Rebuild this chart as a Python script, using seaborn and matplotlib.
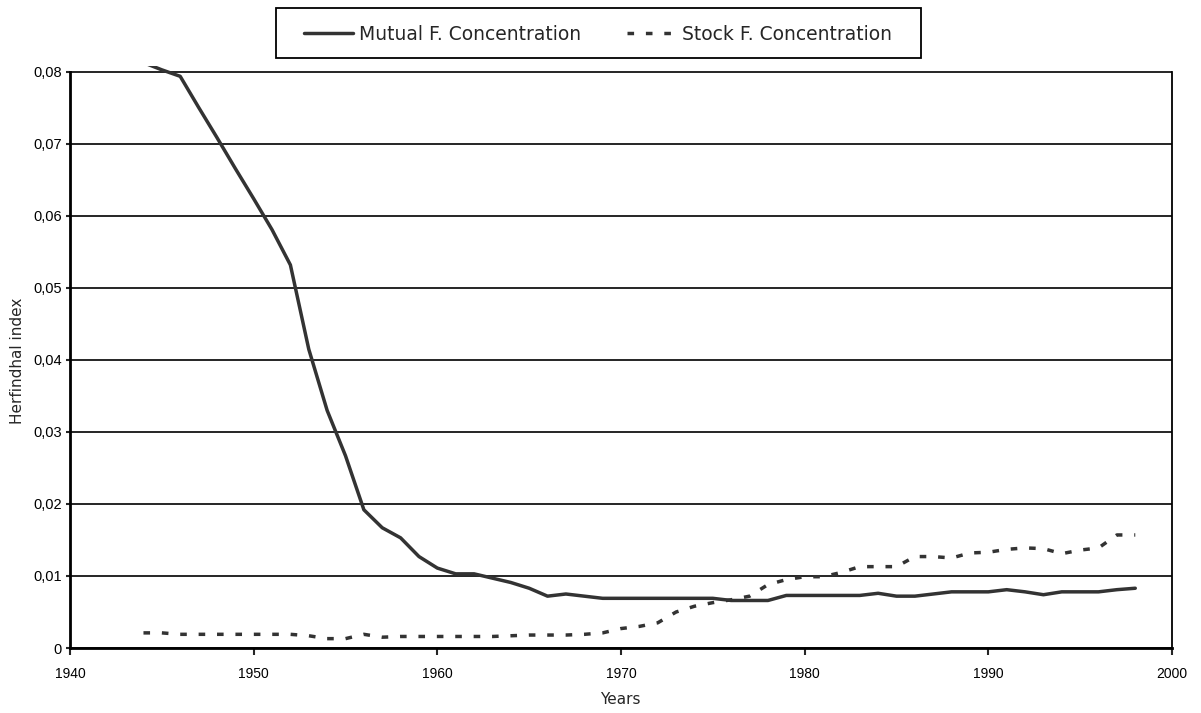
import matplotlib
matplotlib.use('Agg')
import matplotlib.pyplot as plt
import matplotlib.patches as mpatches
import pandas as pd
import seaborn as sns

# Herfindahl concentration
years = list(range(1944, 1999))
mutual = [0.0813, 0.0803, 0.0794, 0.0751, 0.0709, 0.0666, 0.0624, 0.0581, 0.0532, 0.0415,
          0.0330, 0.0267, 0.0192, 0.0167, 0.0153, 0.0127, 0.0111, 0.0103, 0.0103, 0.0097,
          0.0091, 0.0083, 0.0072, 0.0075, 0.0072, 0.0069, 0.0069, 0.0069, 0.0069, 0.0069,
          0.0069, 0.0069, 0.0066, 0.0066, 0.0066, 0.0073, 0.0073, 0.0073, 0.0073, 0.0073,
          0.0076, 0.0072, 0.0072, 0.0075, 0.0078, 0.0078, 0.0078, 0.0081, 0.0078, 0.0074,
          0.0078, 0.0078, 0.0078, 0.0081, 0.0083]
stock = [0.0021, 0.0021, 0.0019, 0.0019, 0.0019, 0.0019, 0.0019, 0.0019, 0.0019, 0.0017,
         0.0013, 0.0013, 0.0019, 0.0015, 0.0016, 0.0016, 0.0016, 0.0016, 0.0016, 0.0016,
         0.0017, 0.0018, 0.0018, 0.0018, 0.0019, 0.0021, 0.0027, 0.0030, 0.0035, 0.0050,
         0.0058, 0.0063, 0.0067, 0.0072, 0.0088, 0.0095, 0.0099, 0.0099, 0.0105, 0.0113,
         0.0113, 0.0113, 0.0127, 0.0127, 0.0125, 0.0132, 0.0133, 0.0137, 0.0139, 0.0138,
         0.0131, 0.0136, 0.0139, 0.0157, 0.0157]
series_names = ['Mutual F. Concentration', 'Stock F. Concentration']
x_ticks = [1940, 1950, 1960, 1970, 1980, 1990, 2000]
y_ticks = [0, 0.01, 0.02, 0.03, 0.04, 0.05, 0.06, 0.07, 0.08]
y_tick_labels = ['0', '0,01', '0,02', '0,03', '0,04', '0,05', '0,06', '0,07', '0,08']

df = pd.DataFrame({
    'year': years * 2,
    'value': mutual + stock,
    'series': [series_names[0]] * len(years) + [series_names[1]] * len(years),
})

sns.set_style('white')
plt.rcParams['font.family'] = ['DejaVu Sans']

W, H = 1201, 713
fig = plt.figure(figsize=(W / 100, H / 100), dpi=100)
# plot area: left 70, right 1172, bottom 648; top a few px above the 0,08 line
ax = fig.add_axes([70 / W, 1 - 648 / H, 1102 / W, 582 / H])

line_col = '#333333'
sns.lineplot(data=df, x='year', y='value', hue='series', style='series',
             hue_order=series_names, style_order=series_names,
             palette=[line_col, line_col],
             dashes={series_names[0]: '', series_names[1]: (1.9, 3.4)},
             linewidth=2.5, legend=False, ax=ax)

ax.set_xlim(1940, 2000)
ax.set_ylim(0, 0.0808333)
ax.set_xticks(x_ticks)
ax.set_yticks(y_ticks)
ax.set_yticklabels(y_tick_labels)
ax.set_xlabel('')
ax.set_ylabel('')

for lab in ax.get_xticklabels():
    lab.set_fontfamily('Liberation Sans')
    lab.set_fontsize(10)
    lab.set_color('black')
for lab in ax.get_yticklabels():
    lab.set_fontfamily('Liberation Sans')
    lab.set_fontsize(10.5)
    lab.set_color('black')

ax.yaxis.grid(True, color='black', linewidth=1.2)
ax.xaxis.grid(False)
ax.spines['top'].set_visible(False)
for side in ['left', 'bottom']:
    ax.spines[side].set_color('black')
    ax.spines[side].set_linewidth(2.0)
ax.spines['right'].set_color('black')
ax.spines['right'].set_linewidth(1.3)
ax.spines['left'].set_bounds(0, 0.08)
ax.spines['right'].set_bounds(0, 0.08)
ax.tick_params(axis='x', direction='out', length=5, width=1.5, pad=9, bottom=True)
ax.tick_params(axis='y', direction='out', length=3, width=1.5, pad=3, left=True)

fig.text(620 / W, 1 - 700 / H, 'Years', ha='center', va='center', fontsize=11)
fig.text(18 / W, 1 - 361 / H, 'Herfindhal index', ha='center', va='center',
         rotation=90, fontsize=11)

# legend with a plain square box on top
handles = ax.get_lines()[:2]
fig.legend(handles, series_names, loc='center', bbox_to_anchor=(598 / W, 1 - 34 / H),
           ncol=2, frameon=False, fontsize=13.5, handlelength=2.6,
           handletextpad=0.35, columnspacing=2.4)
fig.patches.append(mpatches.Rectangle((276 / W, 1 - 58 / H), 645 / W, 50 / H,
                                      transform=fig.transFigure, fill=False,
                                      edgecolor='black', linewidth=1.3))

fig.savefig('out.png', dpi=100)
plt.close(fig)
